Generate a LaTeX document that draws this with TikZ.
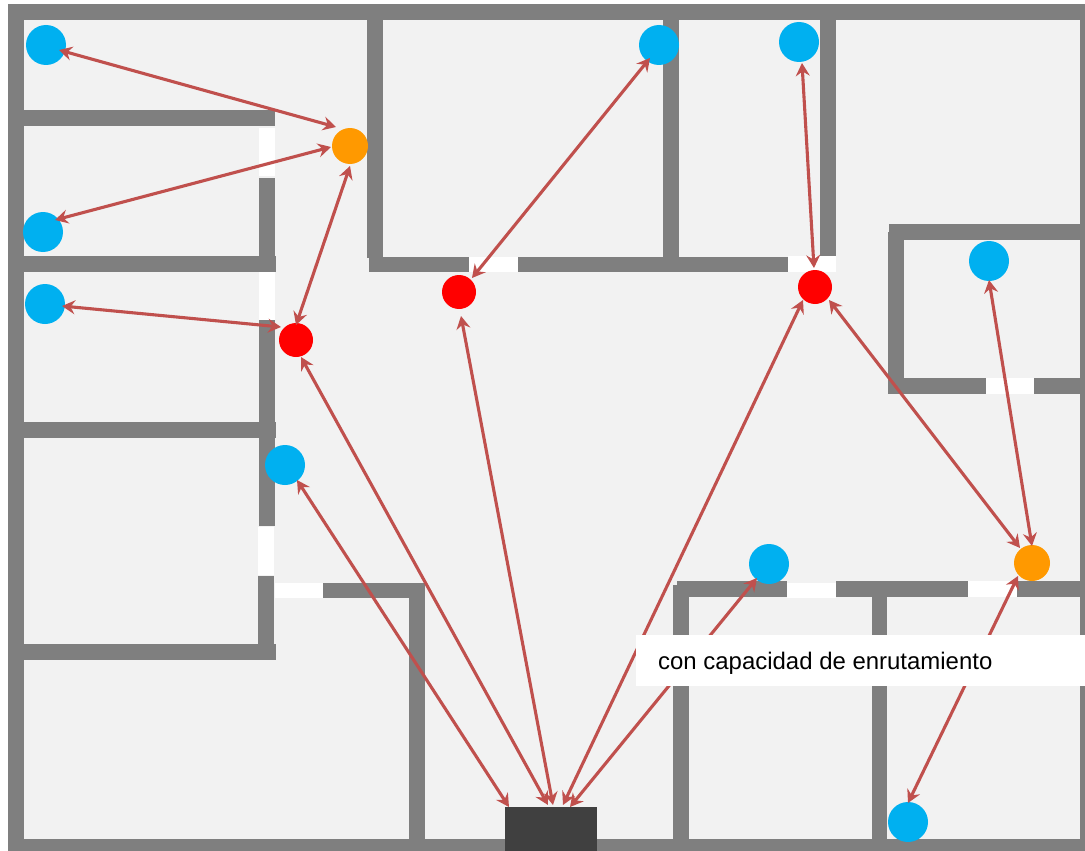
\documentclass[tikz,border=0pt]{standalone}
\usepackage{fontspec}
\setmainfont{Liberation Sans}
\usetikzlibrary{arrows.meta}
\definecolor{floorc}{HTML}{F2F2F2}
\definecolor{wallc}{HTML}{7F7F7F}
\definecolor{devc}{HTML}{404040}
\definecolor{linkc}{HTML}{C0504D}
\definecolor{bluec}{HTML}{00B0F0}
\definecolor{orangec}{HTML}{FF9900}
\definecolor{redc}{HTML}{FF0000}
\tikzset{
  wall/.style={fill=wallc,draw=none},
  door/.style={fill=white,draw=none},
  client/.style={circle,fill=bluec,draw=none,inner sep=0pt,minimum size=40pt},
  relay/.style={circle,fill=orangec,draw=none,inner sep=0pt,minimum size=36pt},
  router/.style={circle,fill=redc,draw=none,inner sep=0pt,minimum size=34pt},
  link/.style={draw=linkc,line width=3.1pt,{Stealth[length=13pt,width=14pt,inset=4.5pt]}-{Stealth[length=13pt,width=14pt,inset=4.5pt]}},
}
\newcommand{\wl}[4]{\fill[wall] (#1,#2) rectangle (#3,#4);}
\newcommand{\dr}[4]{\fill[door] (#1,#2) rectangle (#3,#4);}
\newcommand{\lnk}[6]{\draw[link] ([shift={(#2,#3)}]#1.center) -- ([shift={(#5,#6)}]#4.center);}
\begin{document}
\begin{tikzpicture}[x=1pt,y=-1pt]
\useasboundingbox (0,0) rectangle (1085,851);
\fill[white] (0,0) rectangle (1085,851);
\fill[floorc] (8,4) rectangle (1085,851);
% outer walls
\wl{8}{4}{1085}{20}
\wl{8}{4}{24}{851}
\wl{8}{839}{1085}{851}
\wl{1080}{4}{1085}{851}
% left rooms
\wl{24}{110}{275}{126}
\dr{259}{128}{275}{176}
\wl{259}{178}{275}{257}
\wl{24}{256}{276}{272}
\dr{259}{272}{275}{320}
\wl{259}{320}{275}{526}
\wl{24}{422}{276}{438}
\dr{258}{527}{274}{575}
\wl{258}{576}{274}{660}
\wl{24}{644}{276}{660}
\dr{275}{583}{323}{598}
\wl{323}{583}{425}{598}
\wl{409}{583}{425}{840}
% top rooms
\wl{367}{20}{383}{258}
\wl{369}{257}{469}{272}
\dr{469}{257}{518}{272}
\wl{518}{257}{788}{272}
\wl{663}{20}{679}{258}
\dr{788}{256}{836}{272}
\wl{820}{20}{836}{256}
% right room
\wl{889}{224}{1085}{240}
\wl{888}{232}{904}{394}
\wl{889}{378}{986}{394}
\dr{986}{378}{1034}{394}
\wl{1034}{378}{1085}{394}
% bottom right rooms
\wl{677}{581}{787}{597}
\dr{787}{583}{836}{598}
\wl{836}{581}{968}{597}
\dr{968}{581}{1017}{597}
\wl{1017}{581}{1085}{597}
\wl{673}{585}{689}{840}
\wl{872}{597}{887}{840}
% nodes
\node[fill=devc,draw=none,inner sep=0pt,minimum width=92pt,minimum height=44pt] (D) at (551,829) {};
\node[client] (b1) at (46,45) {};
\node[client] (b2) at (43,232) {};
\node[client] (b3) at (45,304) {};
\node[client] (b4) at (285,465) {};
\node[client] (b5) at (659,45) {};
\node[client] (b6) at (799,42) {};
\node[client] (b7) at (989,261) {};
\node[client] (b8) at (769,564) {};
\node[client] (b9) at (908,822) {};
\node[relay] (o1) at (350,146) {};
\node[relay] (o2) at (1032,563) {};
\node[router] (r1) at (296,340) {};
\node[router] (r2) at (459,292) {};
\node[router] (r3) at (815,287) {};
% links
\lnk{b1}{13}{5}{o1}{-14}{-19}
\lnk{o1}{-19}{1}{b2}{12}{-12}
\lnk{o1}{0}{20}{r1}{0}{-15}
\lnk{b3}{17}{2}{r1}{-15}{-13}
\lnk{r1}{5}{17}{D}{-3}{-24}
\lnk{b4}{12}{15}{D}{-42}{-22}
\lnk{r2}{2}{24}{D}{2}{-24}
\lnk{r2}{13}{-14}{b5}{-9}{13}
\lnk{r3}{-12}{13}{D}{12}{-24}
\lnk{b8}{-12}{14}{D}{19}{-22}
\lnk{b6}{3}{21}{r3}{-1}{-19}
\lnk{r3}{14}{13}{o2}{-12}{-15}
\lnk{b7}{0}{19}{o2}{0}{-17}
\lnk{o2}{-14}{13}{b9}{0}{-19}
% label
\node[fill=white,draw=none,minimum width=449pt,minimum height=51pt,inner sep=0pt] (lab) at (860.5,660.5) {};
\node[anchor=base west,inner sep=0pt,font=\fontsize{23.95pt}{26pt}\selectfont] (txt) at (658,669) {con capacidad de enrutamiento};
\end{tikzpicture}
\end{document}
